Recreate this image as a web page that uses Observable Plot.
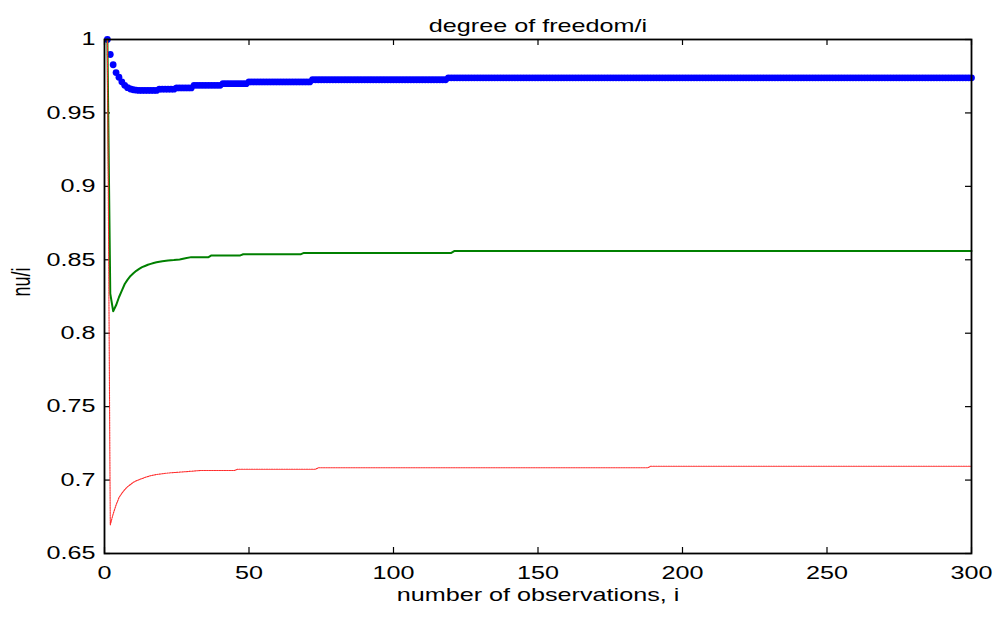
<!DOCTYPE html>
<html><head><meta charset="utf-8">
<script src="https://cdn.jsdelivr.net/npm/d3@7"></script>
<script src="https://cdn.jsdelivr.net/npm/@observablehq/plot@0.6"></script>
<style>html,body{margin:0;padding:0;background:#fff} svg{display:block}</style>
</head><body><div id="chart"></div>
<script>
const titleText = "degree of freedom/i";
const xLabel = "number of observations, i";
const yLabel = "nu/i";
const xTicks = [0, 50, 100, 150, 200, 250, 300];
const yTicks = [0.65, 0.7, 0.75, 0.8, 0.85, 0.9, 0.95, 1];

// blue series: one value per observation i = 1..300
const blueNu = [
  1.0,0.9898,0.9828,0.9775,0.9743,0.9712,0.9688,0.9672,0.9663,0.9658,
  0.9655,0.9653,0.9653,0.9653,0.9653,0.9653,0.9653,0.9653,0.9662,0.9662,
  0.9662,0.9662,0.9662,0.9662,0.967,0.967,0.967,0.967,0.967,0.967,
  0.9688,0.9688,0.9688,0.9688,0.9688,0.9688,0.9688,0.9688,0.9688,0.9688,
  0.9699,0.9699,0.9699,0.9699,0.9699,0.9699,0.9699,0.9699,0.9699,0.9711,
  0.9711,0.9711,0.9711,0.9711,0.9711,0.9711,0.9711,0.9711,0.9711,0.9711,
  0.9711,0.9711,0.9711,0.9711,0.9711,0.9711,0.9711,0.9711,0.9711,0.9711,
  0.9711,0.9726,0.9726,0.9726,0.9726,0.9726,0.9726,0.9726,0.9726,0.9726,
  0.9726,0.9726,0.9726,0.9726,0.9726,0.9726,0.9726,0.9726,0.9726,0.9726,
  0.9726,0.9726,0.9726,0.9726,0.9726,0.9726,0.9726,0.9726,0.9726,0.9726,
  0.9726,0.9726,0.9726,0.9726,0.9726,0.9726,0.9726,0.9726,0.9726,0.9726,
  0.9726,0.9726,0.9726,0.9726,0.9726,0.9726,0.9726,0.9726,0.9739,0.9739,
  0.9739,0.9739,0.9739,0.9739,0.9739,0.9739,0.9739,0.9739,0.9739,0.9739,
  0.9739,0.9739,0.9739,0.9739,0.9739,0.9739,0.9739,0.9739,0.9739,0.9739,
  0.9739,0.9739,0.9739,0.9739,0.9739,0.9739,0.9739,0.9739,0.9739,0.9739,
  0.9739,0.9739,0.9739,0.9739,0.9739,0.9739,0.9739,0.9739,0.9739,0.9739,
  0.9739,0.9739,0.9739,0.9739,0.9739,0.9739,0.9739,0.9739,0.9739,0.9739,
  0.9739,0.9739,0.9739,0.9739,0.9739,0.9739,0.9739,0.9739,0.9739,0.9739,
  0.9739,0.9739,0.9739,0.9739,0.9739,0.9739,0.9739,0.9739,0.9739,0.9739,
  0.9739,0.9739,0.9739,0.9739,0.9739,0.9739,0.9739,0.9739,0.9739,0.9739,
  0.9739,0.9739,0.9739,0.9739,0.9739,0.9739,0.9739,0.9739,0.9739,0.9739,
  0.9739,0.9739,0.9739,0.9739,0.9739,0.9739,0.9739,0.9739,0.9739,0.9739,
  0.9739,0.9739,0.9739,0.9739,0.9739,0.9739,0.9739,0.9739,0.9739,0.9739,
  0.9739,0.9739,0.9739,0.9739,0.9739,0.9739,0.9739,0.9739,0.9739,0.9739,
  0.9739,0.9739,0.9739,0.9739,0.9739,0.9739,0.9739,0.9739,0.9739,0.9739,
  0.9739,0.9739,0.9739,0.9739,0.9739,0.9739,0.9739,0.9739,0.9739,0.9739,
  0.9739,0.9739,0.9739,0.9739,0.9739,0.9739,0.9739,0.9739,0.9739,0.9739,
  0.9739,0.9739,0.9739,0.9739,0.9739,0.9739,0.9739,0.9739,0.9739,0.9739,
  0.9739,0.9739,0.9739,0.9739,0.9739,0.9739,0.9739,0.9739,0.9739,0.9739,
  0.9739,0.9739,0.9739,0.9739,0.9739,0.9739,0.9739,0.9739,0.9739,0.9739
];

// green series: observation numbers where the curve changes, and its value there
const greenObs = [1,2,3,4,5,6,7,8,9,10,11,12,13,14,15,16,17,18,19,20,22,24,26,28,30,36,37,47,48,68,69,120,121,300];
const greenNu  = [1.0,0.827,0.815,0.819,0.8245,0.829,0.8335,0.8365,0.839,0.8408,0.8425,0.8438,0.845,0.8458,0.8466,0.8472,0.8478,0.8483,0.8487,0.849,0.8495,0.8498,0.8502,0.851,0.8518,0.8518,0.853,0.853,0.8538,0.8538,0.8547,0.8547,0.8559,0.8559];

// red series
const redObs = [1,2,3,4,5,6,7,8,9,10,11,12,13,14,16,18,20,22,26,30,33,45,46,73,74,188,189,300];
const redNu  = [1.0,0.6695,0.677,0.683,0.688,0.691,0.6935,0.6955,0.697,0.6985,0.6995,0.7003,0.701,0.7018,0.703,0.7038,0.7043,0.7048,0.7054,0.706,0.7065,0.7065,0.7074,0.7074,0.7084,0.7084,0.7094,0.7094];

const W = 998, H = 617, ML = 104, MR = 27, MT = 39, MB = 64;
const PW = W - ML - MR, PH = H - MT - MB, TL = 6;
const FS = 18, STRETCH = 1.4;

const blueData = blueNu.map((v, i) => ({obs: i + 1, v}));
const greenData = greenObs.map((o, i) => ({obs: o, v: greenNu[i]}));
const redData = redObs.map((o, i) => ({obs: o, v: redNu[i]}));

const fmtY = d => String(+d.toFixed(2));

const chart = Plot.plot({
  width: W, height: H,
  marginLeft: ML, marginRight: MR, marginTop: MT, marginBottom: MB,
  style: {fontFamily: "'Liberation Sans', Arial, Helvetica, sans-serif", fontSize: FS + "px", color: "#000", background: "#fff", overflow: "visible"},
  x: {domain: [0, 300]},
  y: {domain: [0.65, 1]},
  marks: [
    Plot.axisX({ticks: xTicks, anchor: "bottom", tickSize: 0, tickPadding: 13, fontSize: FS, label: null, tickFormat: d => String(d)}),
    Plot.axisY({ticks: yTicks, anchor: "left", tickSize: 0, tickPadding: 9, fontSize: FS, label: null, tickFormat: fmtY}),
    Plot.tickY(yTicks, {y: d => d, insetRight: PW - TL, stroke: "#000", strokeWidth: 1.2}),
    Plot.tickY(yTicks, {y: d => d, insetLeft: PW - TL, stroke: "#000", strokeWidth: 1.2}),
    Plot.tickX(xTicks, {x: d => d, insetTop: PH - TL, stroke: "#000", strokeWidth: 1.2}),
    Plot.tickX(xTicks, {x: d => d, insetBottom: PH - TL, stroke: "#000", strokeWidth: 1.2}),
    Plot.dot(blueData, {x: "obs", y: "v", r: 3.4, fill: "#0000ff", stroke: "none"}),
    Plot.line(greenData, {x: "obs", y: "v", stroke: "#008000", strokeWidth: 2}),
    Plot.line(redData, {x: "obs", y: "v", stroke: "#ff2a2a", strokeWidth: 1.1, strokeDasharray: "1.5,1"}),
    Plot.frame({stroke: "#000", strokeWidth: 1.8}),
    Plot.text([titleText], {text: d => d, frameAnchor: "top", dy: -20, fontSize: FS, fill: "#000"}),
    Plot.text([xLabel], {text: d => d, frameAnchor: "bottom", dy: 47, fontSize: FS, fill: "#000"}),
    Plot.text([yLabel], {text: d => d, frameAnchor: "left", dx: -83, rotate: -90, fontSize: FS, fill: "#000"})
  ]
});

// MATLAB export is horizontally stretched: widen all glyphs about their anchor
chart.querySelectorAll("text").forEach(t => {
  let tr = t.getAttribute("transform") || "";
  if (!/translate/.test(tr)) {
    const x = +(t.getAttribute("x") || 0), y = +(t.getAttribute("y") || 0);
    t.removeAttribute("x"); t.removeAttribute("y");
    tr = `translate(${x},${y}) ` + tr;
  }
  if (/rotate\(-90\)/.test(tr)) t.setAttribute("transform", tr + ` scale(1,${STRETCH})`);
  else t.setAttribute("transform", tr + ` scale(${STRETCH},1)`);
});

document.getElementById("chart").appendChild(chart);
</script>
</body></html>
